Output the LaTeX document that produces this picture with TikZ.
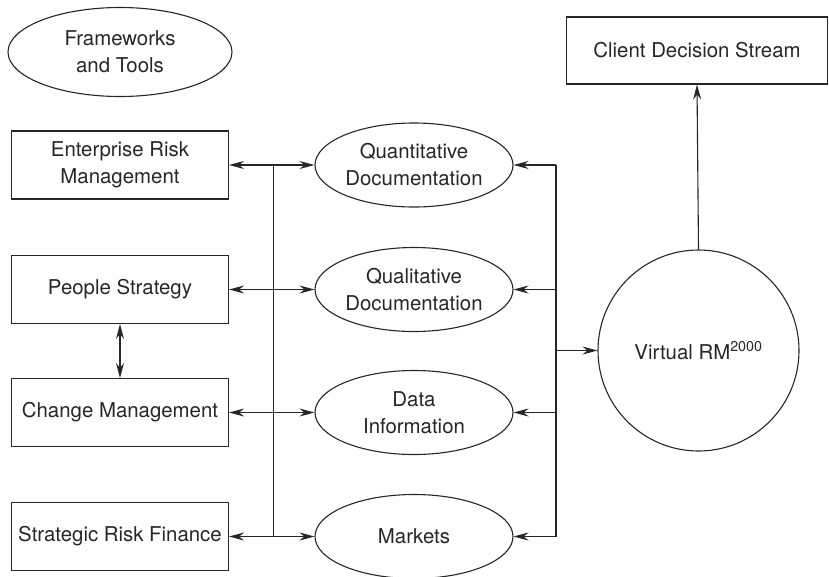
\documentclass[tikz,border=0pt]{standalone}
\usepackage{fontspec}
\setmainfont{TeX Gyre Heros}
\usetikzlibrary{shapes.geometric,arrows.meta}

\tikzset{
	box/.style={draw, line width=1.1pt, minimum width=217pt, minimum height=68pt, inner sep=0pt, align=center},
	oval/.style={draw, ellipse, line width=1.1pt, minimum width=198pt, minimum height=84pt, inner sep=0pt, align=center},
	link/.style={line width=1.1pt},
	tip/.style={-{Stealth[length=15pt,width=8pt,inset=5pt]}},
	twotips/.style={{Stealth[length=15pt,width=8pt,inset=5pt]}-{Stealth[length=15pt,width=8pt,inset=5pt]}}
}

\begin{document}
\begin{tikzpicture}[x=1pt,y=-1pt,font=\fontsize{20.4pt}{27pt}\selectfont,color=black!85]

		\useasboundingbox (0,0) rectangle (829,576);

		\coordinate (r1) at (120,165);
		\coordinate (r2) at (120,289.5);
		\coordinate (r3) at (120,412.5);
		\coordinate (r4) at (120,536.5);

		\node [oval, minimum width=224pt, minimum height=89pt] (tools) at (120,52) {Frameworks\\and Tools};

		\node [box] (erm) at (r1) {Enterprise Risk\\Management};
		\node [box] (people) at (r2) {People Strategy};
		\node [box] (change) at (r3) {Change Management};
		\node [box] (finance) at (r4) {Strategic Risk Finance};

		\node [oval] (quant) at (414,165) {Quantitative\\Documentation};
		\node [oval] (qual) at (414,289.5) {Qualitative\\Documentation};
		\node [oval] (data) at (414,412.5) {Data\\Information};
		\node [oval] (markets) at (414,536.5) {Markets};

		\node [draw, circle, line width=1.1pt, minimum size=201pt, inner sep=0pt] (virtual) at (698.5,350.5) {Virtual RM\textsuperscript{2000}};
		\node [box, minimum width=261pt, minimum height=67pt] (client) at (697,50.5) {Client Decision Stream};

		% left bus
		\coordinate (lbus1) at (273.5,165);
		\coordinate (lbus4) at (273.5,536.5);
		\draw [link] (lbus1) -- (lbus4);
		\draw [link,twotips] (erm.east) -- (quant.west);
		\draw [link,twotips] (people.east) -- (qual.west);
		\draw [link,twotips] (change.east) -- (data.west);
		\draw [link,twotips] (finance.east) -- (markets.west);

		\draw [link,twotips] (people.south) -- (change.north);

		% right bus
		\coordinate (rbus1) at (556,165);
		\coordinate (rbus2) at (556,289.5);
		\coordinate (rbus3) at (556,412.5);
		\coordinate (rbus4) at (556,536.5);
		\coordinate (rbusv) at (556,350.5);
		\draw [link] (rbus1) -- (rbus4);
		\draw [link,tip] (rbus1) -- (quant.east);
		\draw [link,tip] (rbus2) -- (qual.east);
		\draw [link,tip] (rbus3) -- (data.east);
		\draw [link,tip] (rbus4) -- (markets.east);
		\draw [link,tip] (rbusv) -- (virtual.west);

		\draw [link,tip] (virtual.north) -- (client.south);
	\end{tikzpicture}
\end{document}
